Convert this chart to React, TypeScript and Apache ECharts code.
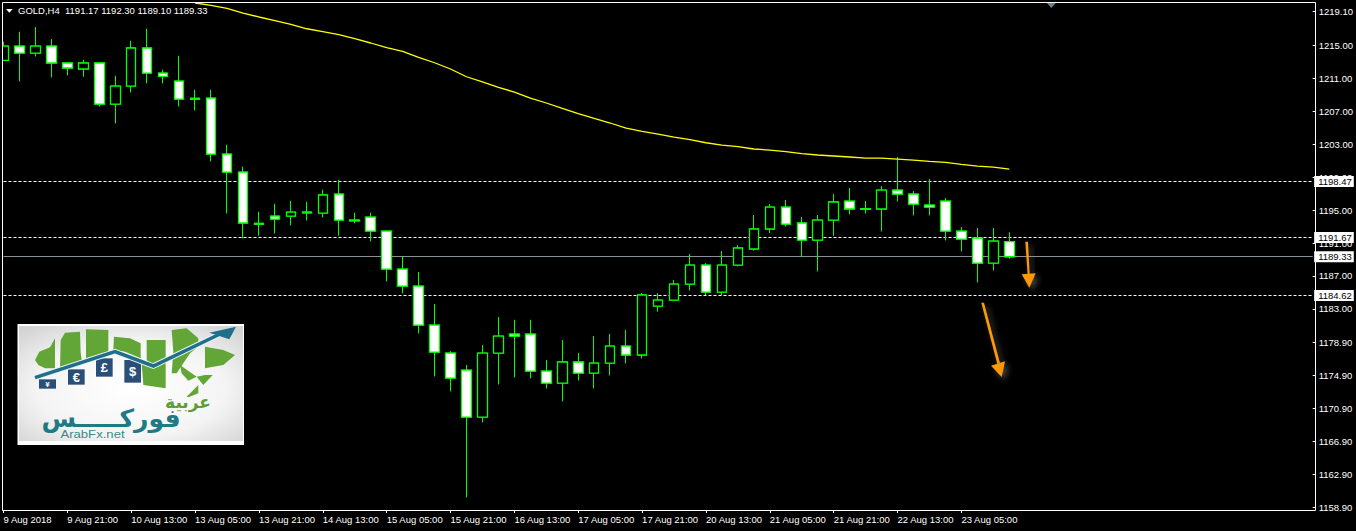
import React, { useEffect, useRef } from "react";
import * as echarts from "echarts";

const tickLabels = ["9 Aug 2018","9 Aug 21:00","10 Aug 13:00","13 Aug 05:00","13 Aug 21:00","14 Aug 13:00","15 Aug 05:00","15 Aug 21:00","16 Aug 13:00","17 Aug 05:00","17 Aug 21:00","20 Aug 13:00","21 Aug 05:00","21 Aug 21:00","22 Aug 13:00","23 Aug 05:00"];
const priceTicks = [1219.1,1215,1211,1207,1203,1199,1195,1191,1187,1183,1178.9,1174.9,1170.9,1166.9,1162.9,1158.9];

const opens = [1213.18,1214.93,1214.08,1214.93,1212.87,1212.14,1212.87,1207.88,1210.07,1214.69,1211.65,1210.68,1208.58,1208.61,1201.81,1199.62,1193.39,1194.27,1194.27,1194.76,1194.64,1196.95,1193.79,1194.15,1192.45,1187.83,1185.77,1181.03,1177.63,1175.56,1169.85,1177.63,1179.94,1179.94,1175.44,1173.98,1176.54,1175.2,1176.41,1178.48,1177.39,1183.34,1184.07,1186.01,1188.32,1185.04,1188.32,1190.27,1192.7,1195.37,1193.43,1191.36,1193.79,1196.1,1195.15,1195.13,1197.43,1196.95,1195.61,1196.1,1192.45,1191.6,1188.56,1191.17];
const closes = [1214.93,1214.08,1214.93,1212.87,1212.26,1212.87,1207.88,1210.07,1214.69,1211.65,1211.24,1208.49,1208.48,1201.81,1199.62,1193.43,1193.29,1193.91,1194.76,1194.66,1196.83,1193.79,1193.69,1192.45,1187.83,1185.77,1181.03,1177.75,1174.59,1169.85,1177.63,1179.69,1179.69,1175.44,1173.98,1176.54,1175.2,1176.41,1178.48,1177.39,1184.68,1184.07,1186.01,1188.32,1185.04,1188.32,1190.39,1192.7,1195.37,1193.3,1191.36,1193.79,1195.98,1195.13,1195.11,1197.43,1196.95,1195.73,1195.37,1192.45,1191.48,1188.56,1191.24,1189.33];
const lows = [1213.18,1210.63,1213.67,1211.12,1211.36,1211.2,1207.59,1205.53,1209.29,1210.39,1210.39,1207.59,1207.11,1200.91,1194.59,1191.55,1191.88,1192.16,1193.13,1193.74,1194.1,1191.88,1193.38,1191.19,1186.33,1184.87,1180.01,1174.79,1172.96,1160.08,1169.2,1173.81,1174.66,1174.54,1173.33,1171.75,1174.3,1173.33,1174.91,1176.36,1176.97,1182.65,1184.07,1185.23,1184.68,1184.68,1188.15,1190.06,1192.21,1193.01,1189.29,1187.54,1191.88,1194.47,1194.59,1192.4,1196.05,1194.35,1194.35,1191.31,1189.97,1186.21,1187.66,1189.1];
const highs = [1215.45,1216.67,1217.24,1215.78,1212.87,1213.27,1212.87,1211.32,1215.58,1217.03,1212.05,1213.75,1209.62,1209.62,1202.94,1200.27,1194.8,1195.77,1196.13,1196.01,1197.47,1198.69,1194.68,1194.68,1192.45,1189.41,1187.47,1183.58,1177.87,1176.17,1178.6,1182,1181.67,1181.67,1176.78,1179.21,1177.63,1179.69,1179.94,1180.42,1184.92,1184.92,1186.5,1189.66,1188.56,1190.02,1190.75,1194.4,1195.73,1196.22,1194.15,1194.4,1196.95,1197.68,1196.1,1197.92,1201.44,1197.31,1198.77,1196.46,1192.94,1192.82,1192.82,1192.3];
const movingAverage = [1220.16,1219.87,1219.5,1218.94,1218.46,1218.01,1217.56,1217.03,1216.67,1216.31,1215.82,1215.3,1214.73,1214.28,1213.55,1212.9,1212.14,1211.2,1210.57,1209.9,1209.34,1208.61,1208.01,1207.35,1206.71,1206.13,1205.58,1204.97,1204.56,1204.24,1203.87,1203.55,1203.18,1202.9,1202.7,1202.42,1202.29,1202.09,1201.85,1201.69,1201.57,1201.45,1201.32,1201.32,1201.2,1201.08,1200.91,1200.79,1200.55,1200.35,1200.23,1199.98];
const maStartIndex = 12;
const dashedLevels = [1198.47, 1191.67, 1184.62];
const bidLevel = 1189.33;
const legendText = "GOLD,H4  1191.17 1192.30 1189.10 1189.33";
const slotCount = 83;

const FONT = "'Liberation Sans', Arial, sans-serif";
const GREEN = "#00ff00";
const TEXT_SIZE = 9.5;

const pts = (a: number[][]) => a.map(([x, y]) => [x / 3, 310 + y / 3]);
const greenShapes = [
  [[105,150],[118,125],[150,112],[165,85],[165,175],[135,175],[115,165]],
  [[180,175],[182,90],[195,68],[240,65],[242,128],[245,150]],
  [[258,145],[258,58],[325,60],[325,125]],
  [[340,120],[342,80],[390,85],[422,100],[422,145],[375,125]],
  [[440,90],[497,90],[497,235],[430,225],[425,160],[460,170],[440,150]],
  [[515,60],[560,55],[595,85],[595,110],[570,130],[530,190],[515,190],[520,125]],
  [[615,110],[670,120],[705,135],[670,165],[640,170],[615,175]],
  [[540,165],[590,200],[565,212],[545,190]],
  [[615,195],[638,195],[610,225],[590,200]],
  [[560,260],[595,225],[595,250],[565,262]],
];
const tiles: [number, number, number, number, string][] = [
  [117,208,51,28,"¥"],[204,178,50,46,"€"],[288,145,50,55,"£"],[373,150,50,68,"$"],
];

function buildLogo(): any[] {
  const out: any[] = [
    { type: "rect", shape: { x: 17.5, y: 324, width: 226.5, height: 121 }, style: { fill: "#ffffff" } },
    { type: "rect", shape: { x: 19, y: 326, width: 224, height: 115 }, style: { fill: new echarts.graphic.RadialGradient(0.5, 0.55, 0.7, [{ offset: 0, color: "#ffffff" }, { offset: 0.6, color: "#f4f4f4" }, { offset: 1, color: "#d4d4d4" }]) } },
  ];
  greenShapes.forEach((s) => out.push({ type: "polygon", shape: { points: pts(s) }, style: { fill: "#62a637" } }));
  tiles.forEach(([x, y, w, h, s]) => {
    out.push({ type: "rect", shape: { x: x / 3, y: 310 + y / 3, width: w / 3, height: h / 3 }, style: { fill: "#2b4e78" } });
    out.push({ type: "text", x: (x + w / 2) / 3, y: 310 + (y + h / 2) / 3, style: { text: s, fill: "#ffffff", font: `bold ${s === "¥" ? 8 : 13}px ${FONT}`, align: "center", verticalAlign: "middle" } });
  });
  const arrow = pts([[105,203],[345,125],[460,168],[660,72]]);
  out.push({ type: "polyline", shape: { points: arrow }, style: { stroke: "#e8f2f4", lineWidth: 5.5, fill: "none" } });
  out.push({ type: "polyline", shape: { points: arrow }, style: { stroke: "#1f6f8b", lineWidth: 3.5, fill: "none" } });
  out.push({ type: "polygon", shape: { points: pts([[628,68],[708,50],[688,88]]) }, style: { fill: "#1f6f8b" } });
  out.push({ type: "text", x: 111, y: 418, style: { text: "فوركـــــس", fill: "#1f7a85", font: "bold 25px 'DejaVu Sans'", align: "center", verticalAlign: "middle" } });
  out.push({ type: "text", x: 188, y: 402, style: { text: "عربية", fill: "#5c9e35", font: "bold 17px 'DejaVu Sans'", align: "center", verticalAlign: "middle" } });
  out.push({ type: "text", x: 92.5, y: 434, scaleX: 1.25, style: { text: "ArabFx.net", fill: "#3b8b86", font: `10.5px ${FONT}`, align: "center", verticalAlign: "middle" } });
  return out;
}

function orangeArrow(shaft: number[][], head: number[][]): any[] {
  const style = { fill: "#ff9900", shadowBlur: 6, shadowOffsetX: 3, shadowOffsetY: 3, shadowColor: "rgba(150,150,150,0.5)" };
  return [
    { type: "polygon", shape: { points: shaft }, style },
    { type: "polygon", shape: { points: head }, style },
  ];
}

export default function App() {
  const ref = useRef<HTMLDivElement>(null);
  useEffect(() => {
    document.body.style.margin = "0";
    document.body.style.background = "#000";
    const chart = echarts.init(ref.current!, undefined, { renderer: "svg" });
    const categories = Array.from({ length: slotCount }, (_, i) => (i % 4 === 0 && tickLabels[i / 4]) || `bar ${i}`);
    const isTick = (i: number) => i % 4 === 0 && i / 4 < tickLabels.length;
    const wickData = opens.map((o, i) => [o, closes[i], lows[i], highs[i]]);
    const bodyData = opens.map((o, i) => [o, closes[i], Math.min(o, closes[i]), Math.max(o, closes[i])]);
    const maData = [...Array(maStartIndex).fill(null), ...movingAverage];
    const candleStyle = (w: number) => ({ color: "#000000", color0: "#ffffff", borderColor: GREEN, borderColor0: GREEN, borderWidth: w });
    const lineLabel = {
      show: true, position: "end", distance: 1.5, color: "#000", backgroundColor: "#fff",
      padding: [1, 2, 0, 4], fontFamily: FONT, fontSize: TEXT_SIZE, lineHeight: 10,
      formatter: (p: any) => Number(p.value).toFixed(2),
    };
    chart.setOption({
      animation: false,
      backgroundColor: "#000",
      grid: { left: 3.5, right: 40.5, top: 3, bottom: 21, show: false },
      xAxis: {
        type: "category", data: categories, boundaryGap: false,
        axisLine: { show: false },
        axisTick: { show: true, length: 3, interval: (i: number) => isTick(i), lineStyle: { color: "#fff" } },
        axisLabel: { show: true, interval: (i: number) => isTick(i), align: "left", margin: 4, color: "#fff", fontFamily: FONT, fontSize: TEXT_SIZE, hideOverlap: false },
        splitLine: { show: false },
      },
      yAxis: {
        type: "value", position: "right", min: 1158.56, max: 1220.16, scale: true,
        axisLine: { show: false },
        axisTick: { show: true, length: 3, customValues: priceTicks, lineStyle: { color: "#fff" } },
        axisLabel: { show: true, customValues: priceTicks, margin: 6, color: "#fff", fontFamily: FONT, fontSize: TEXT_SIZE, formatter: (v: number) => v.toFixed(2) },
        splitLine: { show: false },
      },
      series: [
        {
          type: "line", name: "MA", data: maData, symbol: "none", showSymbol: false, connectNulls: false, z: 3,
          lineStyle: { color: "#ffff00", width: 1.3 },
          markLine: {
            silent: true, symbol: "none", animation: false, z: 1,
            data: [
              ...dashedLevels.map((v) => ({ yAxis: v, lineStyle: { color: "#ffffff", type: [3, 2], width: 1 }, label: lineLabel })),
              { yAxis: bidLevel, lineStyle: { color: "#8a8f98", type: "solid", width: 1 }, label: lineLabel },
            ],
          },
        },
        { type: "candlestick", name: "wicks", data: wickData, barWidth: 10, z: 2, itemStyle: candleStyle(1) },
        { type: "candlestick", name: "bodies", data: bodyData, barWidth: 10, z: 2.5, itemStyle: candleStyle(1.3) },
      ],
      graphic: [
        { type: "rect", z: 19, silent: true, shape: { x: 0, y: 0, width: 2.5, height: 510 }, style: { fill: "#000" } },
        { type: "rect", z: 20, silent: true, shape: { x: 2.5, y: 2.5, width: 1313, height: 508 }, style: { fill: "none", stroke: "#fff", lineWidth: 1 } },
        { type: "polygon", z: 20, shape: { points: [[6, 9], [12.7, 9], [9.3, 12.7]] }, style: { fill: "#fff" } },
        { type: "text", z: 20, x: 18, y: 10.5, style: { text: legendText, fill: "#fff", font: `${TEXT_SIZE}px ${FONT}`, verticalAlign: "middle" } },
        { type: "polygon", z: 20, shape: { points: [[1047, 3], [1055.7, 3], [1051.3, 8]] }, style: { fill: "#708090" } },
        ...orangeArrow([[1025.3, 241.7], [1028, 241.7], [1029.7, 275], [1027.7, 275]], [[1021.7, 274.3], [1035.7, 273.3], [1029.3, 287.7]]).map((e) => ({ ...e, z: 20 })),
        ...orangeArrow([[981.3, 302.7], [984, 302.7], [1000, 363.3], [997.3, 364]], [[991, 365.7], [1005, 361.3], [1001.7, 377]]).map((e) => ({ ...e, z: 20 })),
        { type: "group", z: 20, children: buildLogo() },
      ],
    });
    return () => chart.dispose();
  }, []);
  return <div ref={ref} style={{ width: 1356, height: 531, background: "#000", overflow: "hidden" }} />;
}
